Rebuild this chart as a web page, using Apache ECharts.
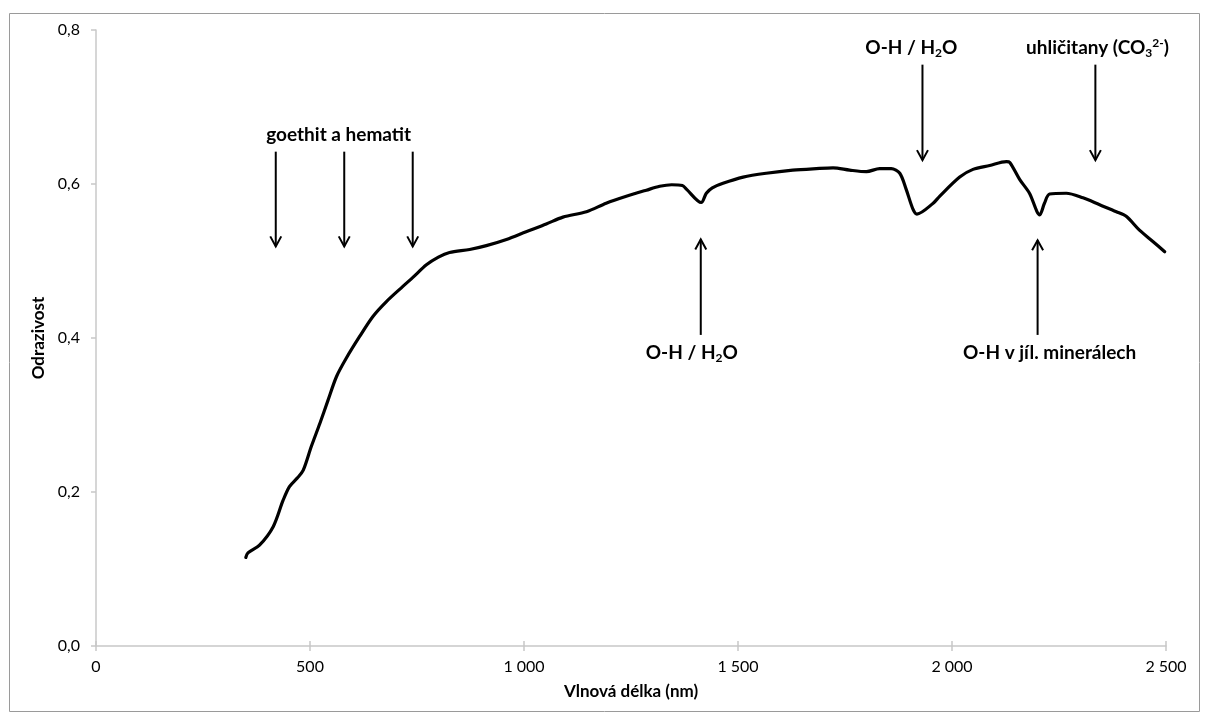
<!DOCTYPE html>
<html>
<head>
<meta charset="utf-8">
<script src="https://cdn.jsdelivr.net/npm/echarts@6/dist/echarts.min.js"></script>
<style>
html, body { margin: 0; padding: 0; background: #fff; }
#spektrum { width: 1207px; height: 717px; }
</style>
</head>
<body>
<div id="spektrum"></div>
<script>
// spektrum odrazivosti pudy
var vlnovaDelka = [350, 355, 382, 414, 437, 452, 470, 484, 503, 523, 542, 562, 585, 616, 647, 678, 717, 741, 772, 800,
    826, 873, 912, 959, 1005, 1052, 1091, 1146, 1192, 1239, 1286, 1317, 1345, 1370, 1380, 1414, 1426, 1440, 1465, 1512,
    1566, 1628, 1683, 1722, 1761, 1800, 1831, 1858, 1878, 1893, 1909, 1918, 1956, 1971, 2018, 2049, 2088, 2127, 2135, 2158,
    2181, 2205, 2216, 2228, 2267, 2306, 2345, 2384, 2407, 2438, 2470, 2497];
var odrazivost = [0.115, 0.121, 0.131, 0.155, 0.189, 0.207, 0.218, 0.228, 0.259, 0.289, 0.319, 0.350, 0.374, 0.402, 0.428, 0.447, 0.467, 0.479, 0.495, 0.505,
    0.511, 0.515, 0.520, 0.528, 0.538, 0.548, 0.557, 0.564, 0.575, 0.584, 0.592, 0.597, 0.599, 0.598, 0.593, 0.576, 0.588, 0.595, 0.601, 0.609,
    0.614, 0.618, 0.620, 0.621, 0.618, 0.616, 0.620, 0.620, 0.614, 0.593, 0.567, 0.561, 0.575, 0.584, 0.609, 0.619, 0.624, 0.629, 0.628, 0.606,
    0.588, 0.560, 0.575, 0.587, 0.588, 0.582, 0.573, 0.564, 0.558, 0.540, 0.525, 0.512];

// sipky: x, odkud, kam (hrot)
var sipkaX = [420, 580, 740, 1413, 1931, 2200, 2335];
var sipkaOd = [0.642, 0.642, 0.642, 0.404, 0.755, 0.404, 0.755];
var sipkaDo = [0.519, 0.519, 0.519, 0.528, 0.631, 0.527, 0.631];

// popisky: text, x, y
var popisky = ['goethit a hematit', 'O-H / H{sub|2}O', 'O-H / H{sub|2}O', 'uhličitany (CO{sub|3}{sup|2-})', 'O-H v jíl. minerálech'];
var popiskyX = [567, 1392, 1905, 2340, 2228];
var popiskyY = [0.664, 0.381, 0.777, 0.777, 0.381];

var myChart = echarts.init(document.getElementById('spektrum'));

var font = 'Lato, "Open Sans", sans-serif';
var carka = function (v) { return v.toFixed(1).replace('.', ','); };
var tisice = function (v) { return String(v).replace(/\B(?=(\d{3})+(?!\d))/g, ' '); };

option = {
    animation: false,
    graphic: [{
        type: 'rect',
        shape: { x: 9.5, y: 13.5, width: 1190, height: 698 },
        style: { fill: 'none', stroke: '#9a9a9a', lineWidth: 1 },
        silent: true
    }],
    grid: { left: 96, right: 41, top: 30, bottom: 71 },
    xAxis: [{
        type: 'value',
        min: 0, max: 2500, interval: 500,
        name: 'Vlnová délka (nm)',
        nameLocation: 'middle',
        nameGap: 37,
        nameTextStyle: { fontFamily: font, fontWeight: 'bold', fontSize: 17, color: '#000' },
        axisLine: { lineStyle: { color: '#c8c8c8', width: 1.5 } },
        axisTick: { show: true, length: 5, lineStyle: { color: '#c8c8c8', width: 1.5 } },
        axisLabel: { fontFamily: font, fontSize: 16, color: '#000', margin: 13, formatter: tisice },
        splitLine: { show: false }
    }, {
        type: 'value',
        position: 'bottom',
        min: 0, max: 2500, interval: 500,
        axisLine: { show: false },
        axisTick: { show: true, inside: true, length: 5, lineStyle: { color: '#c8c8c8', width: 1.5 } },
        axisLabel: { show: false },
        splitLine: { show: false }
    }],
    yAxis: {
        type: 'value',
        min: 0, max: 0.8, interval: 0.2,
        name: 'Odrazivost',
        nameLocation: 'middle',
        nameGap: 47,
        nameTextStyle: { fontFamily: font, fontWeight: 'bold', fontSize: 17, color: '#000' },
        axisLine: { show: true, lineStyle: { color: '#c8c8c8', width: 1.5 } },
        axisTick: { show: true, length: 5, lineStyle: { color: '#c8c8c8', width: 1.5 } },
        axisLabel: { fontFamily: font, fontSize: 16, color: '#000', margin: 16, formatter: carka },
        splitLine: { show: false }
    },
    series: [
        {
            type: 'line',
            data: vlnovaDelka.map(function (x, i) { return [x, odrazivost[i]]; }),
            showSymbol: false,
            smooth: 0.3,
            lineStyle: { color: '#000', width: 3.2, join: 'round', cap: 'round' },
            z: 3
        },
        {
            type: 'custom',
            data: sipkaX.map(function (x, i) { return [x, sipkaOd[i], sipkaDo[i]]; }),
            renderItem: function (params, api) {
                var a = api.coord([api.value(0), api.value(1)]);
                var b = api.coord([api.value(0), api.value(2)]);
                var d = b[1] > a[1] ? 1 : -1;
                var st = { stroke: '#000', lineWidth: 2, fill: 'none' };
                return {
                    type: 'group',
                    children: [
                        { type: 'line', shape: { x1: a[0], y1: a[1], x2: b[0], y2: b[1] }, style: st },
                        { type: 'polyline', shape: { points: [[b[0] - 5.5, b[1] - d * 10], [b[0], b[1]], [b[0] + 5.5, b[1] - d * 10]] }, style: st }
                    ]
                };
            },
            z: 4
        },
        {
            type: 'custom',
            data: popiskyX.map(function (x, i) { return [x, popiskyY[i], i]; }),
            renderItem: function (params, api) {
                var p = api.coord([api.value(0), api.value(1)]);
                return {
                    type: 'text',
                    x: p[0], y: p[1],
                    style: {
                        text: popisky[api.value(2)],
                        fontFamily: font, fontWeight: 'bold', fontSize: 19, lineHeight: 22, fill: '#000',
                        align: 'center', verticalAlign: 'middle',
                        rich: {
                            sub: { fontFamily: font, fontWeight: 'bold', fontSize: 12, verticalAlign: 'bottom', lineHeight: 11 },
                            sup: { fontFamily: font, fontWeight: 'bold', fontSize: 12, verticalAlign: 'top', lineHeight: 11 }
                        }
                    }
                };
            },
            z: 5
        }
    ]
};
myChart.setOption(option);
</script>
</body>
</html>
